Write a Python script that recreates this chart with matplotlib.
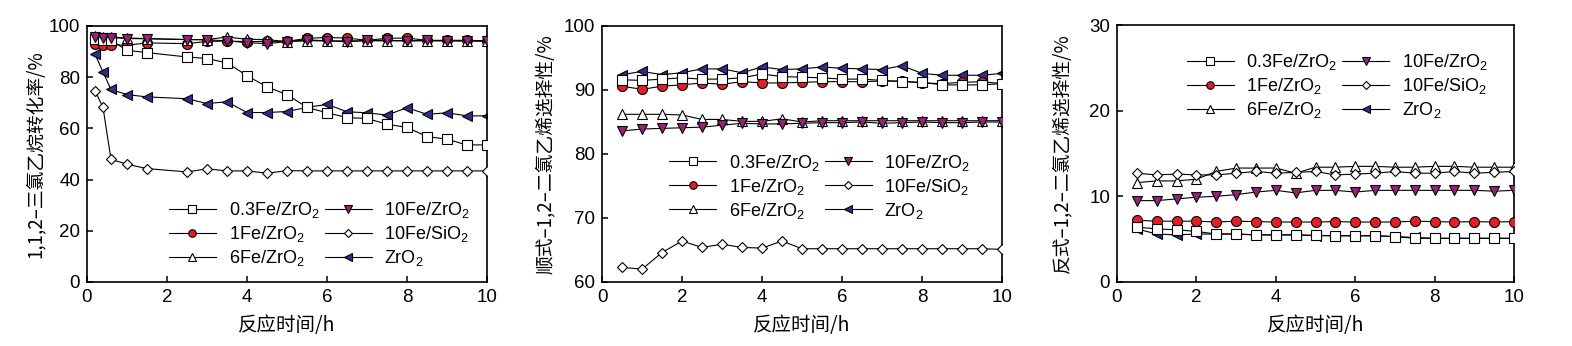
import matplotlib
matplotlib.use('Agg')
import matplotlib.pyplot as plt
import numpy as np

plt.rcParams['font.family'] = ['Liberation Sans', 'DejaVu Sans']
plt.rcParams['mathtext.fontset'] = 'custom'
plt.rcParams['mathtext.rm'] = 'Liberation Sans'
plt.rcParams['mathtext.it'] = 'Liberation Sans:italic'
plt.rcParams['mathtext.bf'] = 'Liberation Sans:bold'

# reaction time (h)
t_conv = [0.2, 0.4, 0.6, 1, 1.5, 2.5, 3, 3.5, 4, 4.5, 5, 5.5, 6, 6.5, 7, 7.5, 8, 8.5, 9, 9.5, 10]
t_sel = [0.5, 1, 1.5, 2, 2.5, 3, 3.5, 4, 4.5, 5, 5.5, 6, 6.5, 7, 7.5, 8, 8.5, 9, 9.5, 10]

# 1,1,2-trichloroethane conversion (%)
conv_03fe = [95.0, 94.7, 94.4, 90.5, 89.6, 87.9, 87.3, 85.6, 80.6, 76.2, 73.2, 68.2, 66.1, 64.2, 63.9, 61.6, 60.4, 56.8, 55.8, 53.5, 53.6]
conv_1fe = [93.1, 92.7, 92.7, 92.5, 93.4, 93.1, 94.0, 94.1, 93.9, 94.0, 94.0, 95.2, 95.5, 95.3, 94.4, 95.2, 95.3, 94.4, 94.4, 94.4, 94.2]
conv_6fe = [96.0, 95.7, 95.7, 95.3, 95.1, 94.7, 94.7, 95.7, 94.8, 94.7, 93.9, 94.2, 94.2, 94.2, 94.2, 94.2, 94.2, 94.2, 94.2, 94.2, 94.2]
conv_10fe = [95.7, 95.5, 95.5, 95.1, 95.0, 94.7, 94.6, 94.2, 93.5, 93.1, 93.9, 94.6, 94.2, 93.8, 94.4, 94.4, 94.2, 94.4, 94.2, 94.2, 94.0]
conv_10fe_si = [74.7, 68.2, 47.9, 46.0, 44.3, 43.0, 44.2, 43.4, 43.4, 42.5, 43.5, 43.4, 43.4, 43.4, 43.4, 43.4, 43.4, 43.4, 43.4, 43.4, 43.4]
conv_zro2 = [89.0, 82.0, 75.2, 73.2, 72.3, 71.6, 69.7, 70.4, 66.2, 66.2, 66.6, 68.2, 69.4, 66.5, 66.1, 65.2, 68.1, 65.5, 66.1, 64.9, 64.9]

# cis-1,2-dichloroethylene selectivity (%)
cis_03fe = [91.6, 91.5, 91.7, 91.9, 91.7, 91.7, 91.9, 92.5, 92.1, 92.0, 91.9, 91.7, 91.7, 91.5, 91.3, 91.2, 90.8, 90.8, 90.8, 91.0]
cis_1fe = [90.6, 90.1, 90.6, 90.8, 91.1, 90.9, 91.3, 91.1, 91.1, 91.2, 91.3, 91.3, 91.3, 91.4, 91.4, 91.1, 91.0, 91.2, 91.3, 91.0]
cis_6fe = [86.2, 86.2, 86.2, 86.1, 85.4, 85.4, 85.1, 85.1, 85.5, 85.0, 85.2, 85.2, 85.2, 85.2, 85.2, 85.2, 85.2, 85.2, 85.2, 85.2]
cis_10fe = [83.6, 83.9, 84.0, 84.1, 84.2, 84.5, 84.8, 84.7, 84.7, 84.8, 84.9, 84.9, 85.0, 84.8, 84.9, 85.0, 84.9, 84.9, 85.0, 85.0]
cis_10fe_si = [62.3, 62.0, 64.6, 66.4, 65.4, 65.9, 65.4, 65.3, 66.4, 65.2, 65.2, 65.2, 65.2, 65.2, 65.2, 65.2, 65.2, 65.2, 65.2, 65.1]
cis_zro2 = [92.4, 92.9, 92.4, 92.7, 93.3, 93.3, 92.7, 93.6, 93.2, 93.3, 93.6, 93.4, 93.3, 93.2, 93.8, 92.6, 92.3, 92.3, 92.3, 92.6]

# trans-1,2-dichloroethylene selectivity (%)
trans_03fe = [6.4, 6.2, 6.1, 5.9, 5.6, 5.6, 5.5, 5.5, 5.5, 5.45, 5.4, 5.4, 5.4, 5.3, 5.1, 5.1, 5.1, 5.1, 5.1, 5.1]
trans_1fe = [7.2, 7.1, 7.1, 7.1, 7.0, 7.1, 7.05, 7.0, 7.0, 7.0, 7.05, 7.0, 7.0, 7.0, 7.1, 7.05, 7.0, 7.05, 7.0, 7.05]
trans_6fe = [11.6, 11.8, 11.8, 12.0, 12.9, 13.3, 13.3, 13.3, 12.7, 13.4, 13.4, 13.5, 13.5, 13.4, 13.4, 13.5, 13.5, 13.4, 13.4, 13.4]
trans_10fe = [9.5, 9.5, 9.7, 9.9, 10.0, 10.2, 10.5, 10.7, 10.4, 10.7, 10.7, 10.5, 10.7, 10.7, 10.7, 10.7, 10.7, 10.7, 10.6, 10.7]
trans_10fe_si = [12.7, 12.5, 12.6, 12.5, 12.5, 12.7, 12.9, 12.7, 12.8, 12.9, 12.5, 12.6, 12.7, 12.9, 12.7, 12.7, 12.9, 12.7, 12.8, 12.9]
trans_zro2 = [6.2, 5.6, 5.5, 5.6, 5.6, 5.6, 5.5, 5.5, 5.5, 5.4, 5.4, 5.4, 5.4, 5.3, 5.2, 5.1, 5.1, 5.1, 5.1, 5.1]

labels = [r'0.3Fe/ZrO$_2$', r'1Fe/ZrO$_2$', r'6Fe/ZrO$_2$',
          r'10Fe/ZrO$_2$', r'10Fe/SiO$_2$', r'ZrO$_2$']

# marker, face colour, size for each catalyst
styles = [
    ('s', 'white', 7.2),
    ('o', '#e81c24', 7.2),
    ('^', 'white', 6.8),
    ('v', '#9b1f7b', 6.8),
    ('D', 'white', 5.2),
    ('<', '#2b2f8e', 7.2),
]
zorders = [4, 3, 3, 5, 3, 2]

cjk = ['Noto Sans CJK SC', 'DejaVu Sans']

fig = plt.figure(figsize=(15.72, 3.46), dpi=100)
ax1 = fig.add_axes([87 / 1572, 64 / 346, 400 / 1572, 256 / 346])
ax2 = fig.add_axes([602 / 1572, 64 / 346, 400 / 1572, 256 / 346])
ax3 = fig.add_axes([1117 / 1572, 64 / 346, 397 / 1572, 257 / 346])

panels = [
    (ax1, t_conv, [conv_03fe, conv_1fe, conv_6fe, conv_10fe, conv_10fe_si, conv_zro2],
     (0, 100), np.arange(0, 101, 20), '1,1,2–三氯乙烷转化率/%', -0.103,
     (0.205, 0.32)),
    (ax2, t_sel, [cis_03fe, cis_1fe, cis_6fe, cis_10fe, cis_10fe_si, cis_zro2],
     (60, 100), np.arange(60, 101, 10), '顺式–1,2–二氯乙烯选择性/%', -0.115,
     (0.168, 0.505)),
    (ax3, t_sel, [trans_03fe, trans_1fe, trans_6fe, trans_10fe, trans_10fe_si, trans_zro2],
     (0, 30), np.arange(0, 31, 10), '反式–1,2–二氯乙烯选择性/%', -0.113,
     (0.176, 0.895)),
]

for ax, t, series, ylim, yticks, ylabel, ylab_x, leg_pos in panels:
    handles = []
    for vals, lab, (mk, fc, ms), zo in zip(series, labels, styles, zorders):
        h, = ax.plot(t, vals, color='black', lw=0.8, marker=mk, markersize=ms,
                     markerfacecolor=fc, markeredgecolor='black', markeredgewidth=0.8,
                     label=lab, zorder=zo)
        handles.append(h)

    ax.set_xlim(0, 10)
    ax.set_ylim(*ylim)
    ax.set_xticks(np.arange(0, 11, 2))
    ax.set_yticks(yticks)
    ax.tick_params(direction='in', length=4, width=1.1, labelsize=13.5, pad=5,
                   top=False, right=False)
    for sp in ax.spines.values():
        sp.set_linewidth(1.2)

    ax.set_ylabel(ylabel, family=cjk, fontsize=13.5)
    ax.yaxis.set_label_coords(ylab_x, 0.5)
    ax.set_xlabel('反应时间/h', family=cjk, fontsize=14)
    ax.xaxis.set_label_coords(0.5, -0.13)

    ax.legend(handles=handles, ncol=2, frameon=False, fontsize=13,
              loc='upper left', bbox_to_anchor=leg_pos, borderpad=0,
              borderaxespad=0, handlelength=2.6, handletextpad=0.7,
              columnspacing=0.3, labelspacing=0.22, markerscale=0.75)

fig.savefig('out.png', dpi=100)
